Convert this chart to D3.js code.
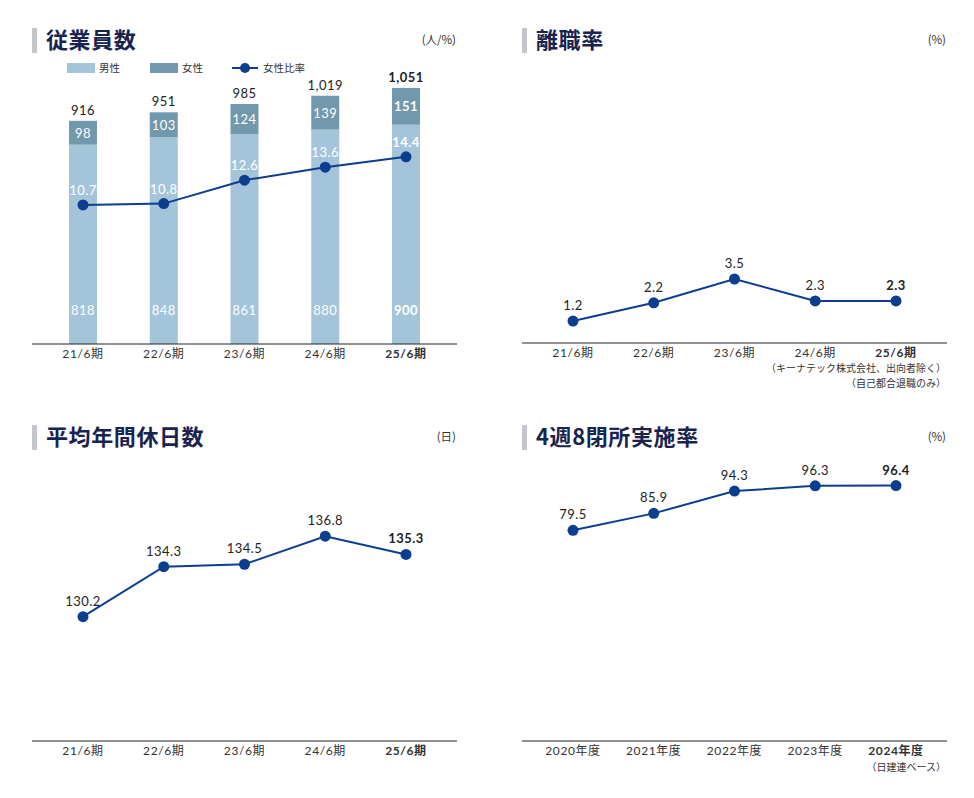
<!DOCTYPE html>
<html>
<head>
<meta charset="utf-8">
<script src="https://cdn.jsdelivr.net/npm/d3@7"></script>
<style>
  body { margin: 0; background: #fff; }
  text { font-family: "Lato", "Noto Sans CJK JP", sans-serif; }
  .jp { font-family: "Noto Sans CJK JP", sans-serif; }
</style>
</head>
<body>
<svg id="chart" width="974" height="798"></svg>
<script>
// data
const periods = ["21/6期", "22/6期", "23/6期", "24/6期", "25/6期"];
const fiscalYears = ["2020年度", "2021年度", "2022年度", "2023年度", "2024年度"];
const menCount = [818, 848, 861, 880, 900];
const womenCount = [98, 103, 124, 139, 151];
const totalCount = [916, 951, 985, 1019, 1051];
const womenRatio = [10.7, 10.8, 12.6, 13.6, 14.4];
const turnoverRate = [1.2, 2.2, 3.5, 2.3, 2.3];
const holidays = [130.2, 134.3, 134.5, 136.8, 135.3];
const closureRate = [79.5, 85.9, 94.3, 96.3, 96.4];

const MEN = "#a3c4d9", WOMEN = "#7198ac", LINE = "#0c3d8e", NAVY = "#18234f", TXT = "#333";

const svg = d3.select("#chart");

// panel frame: gray marker, title, unit
function panel(x0, top, title, unit) {
  let g = svg.append("g").attr("transform", `translate(${x0},0)`);
  g.append("rect").attr("x", 0).attr("y", top - 12).attr("width", 5).attr("height", 25).attr("fill", "#c3c7cb");
  g.append("text").attr("class", "jp").attr("x", 14).attr("y", top + 8)
    .attr("font-size", 22).attr("font-weight", 700).attr("fill", NAVY)
    .attr("letter-spacing", 0.6).text(title);
  g.append("text").attr("class", "jp").attr("x", 424).attr("y", top + 4).attr("text-anchor", "end")
    .attr("font-size", 11.5).attr("fill", TXT).text(unit);
  return g;
}

function xAxis(g, base, labels) {
  let x = d3.scalePoint().domain(labels).range([51, 374]);
  g.append("line").attr("x1", 0).attr("x2", 425).attr("y1", base).attr("y2", base)
    .attr("stroke", "#222").attr("stroke-width", 1);
  g.selectAll(".tick").data(labels).join("text")
    .attr("x", d => x(d)).attr("y", base + 14).attr("text-anchor", "middle")
    .attr("font-size", 12).attr("fill", TXT)
    .attr("font-weight", (d, i) => i === labels.length - 1 ? 700 : 400)
    .attr("letter-spacing", 0.6)
    .text(d => d);
  return x;
}

function lineSeries(g, x, y, labels, values, lblOffset, lblColor) {
  let pts = labels.map((d, i) => [x(d), y(values[i])]);
  g.append("path").attr("d", d3.line()(pts)).attr("fill", "none").attr("stroke", LINE).attr("stroke-width", 2);
  g.selectAll(".dot").data(pts).join("circle")
    .attr("cx", d => d[0]).attr("cy", d => d[1]).attr("r", 5.5).attr("fill", LINE);
  g.selectAll(".vlbl").data(values).join("text")
    .attr("x", (d, i) => pts[i][0]).attr("y", (d, i) => pts[i][1] - lblOffset)
    .attr("text-anchor", "middle").attr("font-size", 13).attr("fill", lblColor)
    .attr("letter-spacing", 0.5)
    .attr("font-weight", (d, i) => i === values.length - 1 ? 700 : 400)
    .text(d => d.toFixed(1));
}

// ---- 従業員数
{
  let base = 344;
  let g = panel(32, 40, "従業員数", "(人/%)");
  let x = d3.scalePoint().domain(periods).range([51, 374]);
  let y = d3.scaleLinear().domain([0, 1100]).range([base, 76]);
  let y2 = d3.scaleLinear().domain([0, 20]).range([base, 84]);
  let bw = 28;

  // legend
  let lg = g.append("g").attr("class", "jp");
  lg.append("rect").attr("x", 35).attr("y", 63).attr("width", 28).attr("height", 10).attr("fill", MEN);
  lg.append("text").attr("x", 67).attr("y", 72).attr("font-size", 10.5).attr("fill", TXT).text("男性");
  lg.append("rect").attr("x", 118).attr("y", 63).attr("width", 28).attr("height", 10).attr("fill", WOMEN);
  lg.append("text").attr("x", 150).attr("y", 72).attr("font-size", 10.5).attr("fill", TXT).text("女性");
  lg.append("line").attr("x1", 200).attr("x2", 226).attr("y1", 68).attr("y2", 68).attr("stroke", LINE).attr("stroke-width", 2);
  lg.append("circle").attr("cx", 213).attr("cy", 68).attr("r", 5).attr("fill", LINE);
  lg.append("text").attr("x", 231).attr("y", 72).attr("font-size", 10.5).attr("fill", TXT).text("女性比率");

  g.selectAll(".men").data(menCount).join("rect")
    .attr("x", (d, i) => x(periods[i]) - bw / 2).attr("width", bw)
    .attr("y", d => y(d)).attr("height", d => base - y(d)).attr("fill", MEN);
  g.selectAll(".women").data(womenCount).join("rect")
    .attr("x", (d, i) => x(periods[i]) - bw / 2).attr("width", bw)
    .attr("y", (d, i) => y(menCount[i] + d)).attr("height", (d, i) => y(menCount[i]) - y(menCount[i] + d))
    .attr("fill", WOMEN);

  const bold = i => i === 4 ? 700 : 400;
  g.selectAll(".menLbl").data(menCount).join("text")
    .attr("x", (d, i) => x(periods[i])).attr("y", 315).attr("text-anchor", "middle")
    .attr("font-size", 13).attr("letter-spacing", 0.5).attr("fill", "#fff")
    .attr("font-weight", (d, i) => bold(i)).text(d => d);
  g.selectAll(".womenLbl").data(womenCount).join("text")
    .attr("x", (d, i) => x(periods[i])).attr("y", (d, i) => (y(menCount[i]) + y(menCount[i] + d)) / 2 + 5)
    .attr("text-anchor", "middle").attr("font-size", 13).attr("letter-spacing", 0.5).attr("fill", "#fff")
    .attr("font-weight", (d, i) => bold(i)).text(d => d);
  g.selectAll(".totLbl").data(totalCount).join("text")
    .attr("x", (d, i) => x(periods[i])).attr("y", d => y(d) - 6).attr("text-anchor", "middle")
    .attr("font-size", 13).attr("letter-spacing", 0.5).attr("fill", "#222")
    .attr("font-weight", (d, i) => bold(i))
    .text(d => d3.format(",")(d));

  xAxis(g, base, periods);
  lineSeries(g, x, y2, periods, womenRatio, 10, "#fff");
}

// ---- 離職率
{
  let base = 343;
  let g = panel(522, 40, "離職率", "(%)");
  let x = xAxis(g, base, periods);
  let y = d3.scaleLinear().domain([0, 14]).range([base, 87]);
  lineSeries(g, x, y, periods, turnoverRate, 11, "#222");
  g.append("text").attr("class", "jp").attr("x", 424).attr("y", 372).attr("text-anchor", "end")
    .attr("font-size", 10).attr("fill", TXT).text("（キーナテック株式会社、出向者除く）");
  g.append("text").attr("class", "jp").attr("x", 424).attr("y", 387).attr("text-anchor", "end")
    .attr("font-size", 10).attr("fill", TXT).text("（自己都合退職のみ）");
}

// ---- 平均年間休日数
{
  let base = 741;
  let g = panel(32, 437, "平均年間休日数", "(日)");
  let x = xAxis(g, base, periods);
  let y = d3.scaleLinear().domain([120, 141]).range([base, 485]);
  lineSeries(g, x, y, periods, holidays, 11, "#222");
}

// ---- 4週8閉所実施率
{
  let base = 741;
  let g = panel(522, 437, "4週8閉所実施率", "(%)");
  let x = xAxis(g, base, fiscalYears);
  let y = d3.scaleLinear().domain([0, 100]).range([base, 476]);
  lineSeries(g, x, y, fiscalYears, closureRate, 11, "#222");
  g.append("text").attr("class", "jp").attr("x", 424).attr("y", 771).attr("text-anchor", "end")
    .attr("font-size", 10).attr("fill", TXT).text("（日建連ベース）");
}
</script>
</body>
</html>
